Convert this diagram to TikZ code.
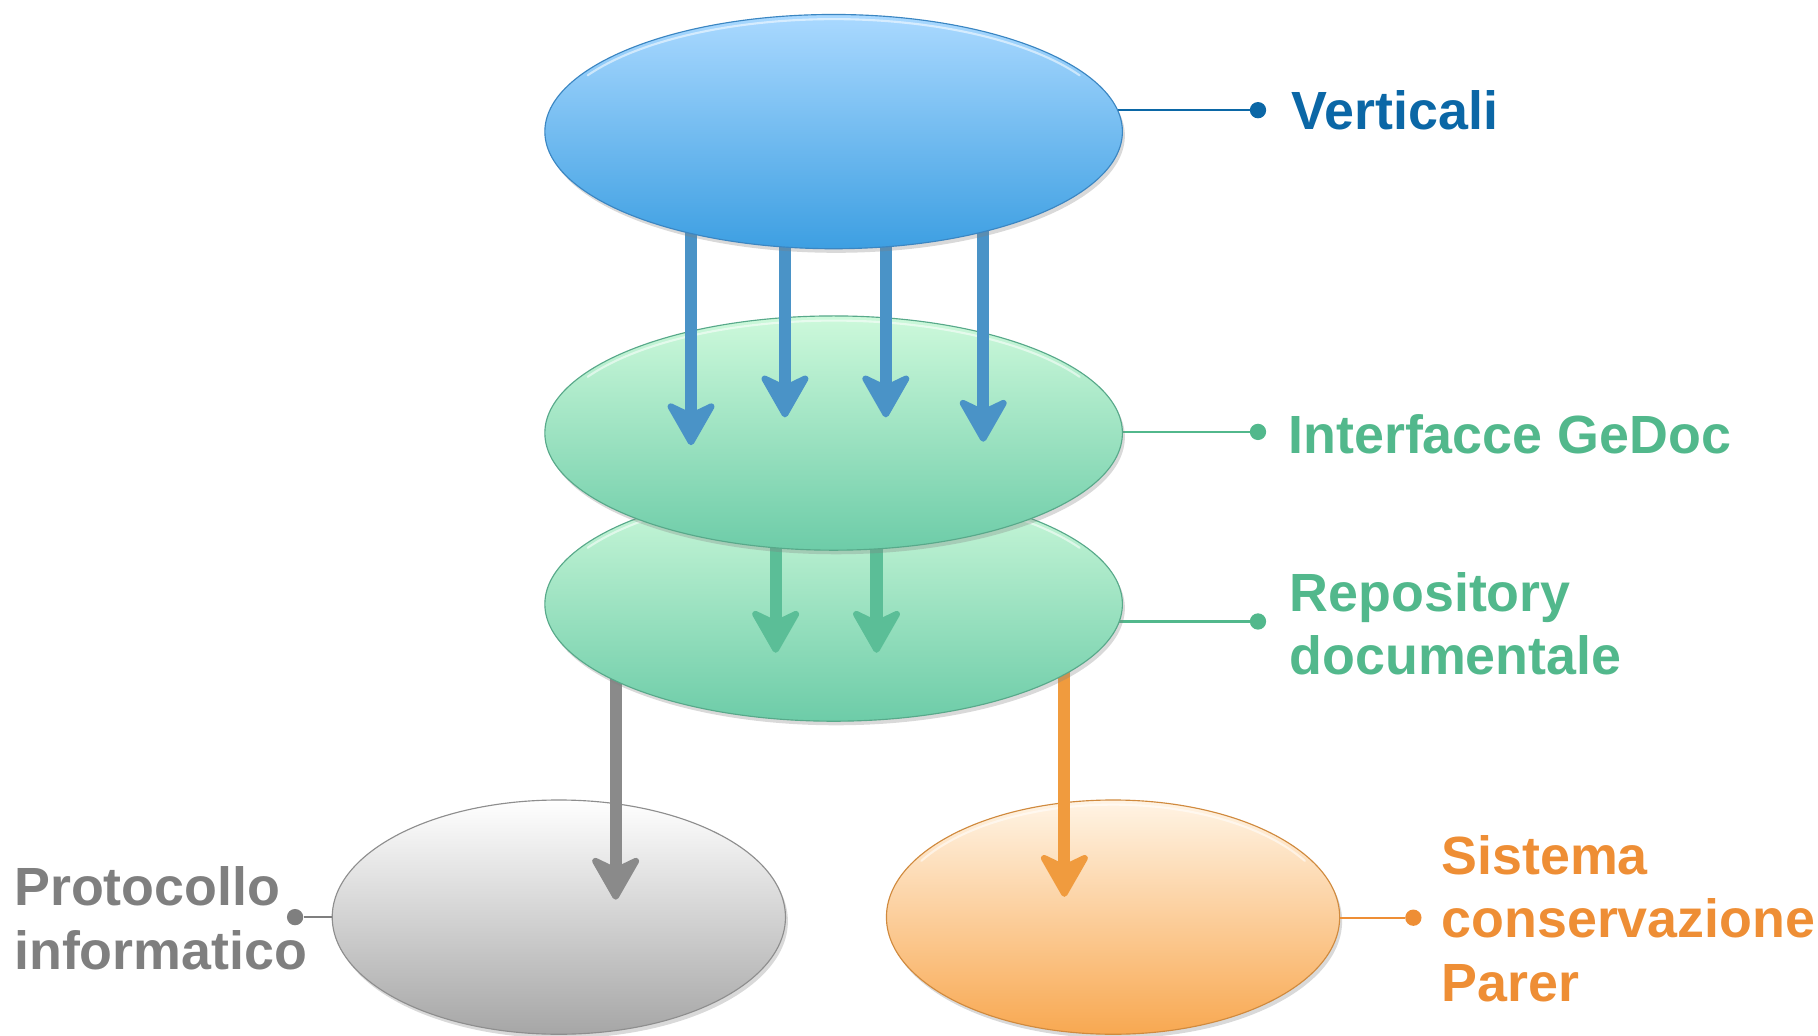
\documentclass[tikz,border=0pt]{standalone}
\usepackage{fontspec}
\setmainfont{Liberation Sans}
\usetikzlibrary{shapes.geometric,shadows,arrows.meta,calc}
\definecolor{txtblue}{HTML}{0B67A6}
\definecolor{arrblue}{HTML}{4A93C7}
\definecolor{blueT}{HTML}{AAD9FF}
\definecolor{blueB}{HTML}{3D9FE2}
\definecolor{blueE}{HTML}{3B86C2}
\definecolor{txtgreen}{HTML}{52B88C}
\definecolor{arrgreen}{HTML}{5BBE97}
\definecolor{greenT}{HTML}{CDF9DB}
\definecolor{greenB}{HTML}{6DCCA8}
\definecolor{greenE}{HTML}{58A98A}
\definecolor{txtgrey}{HTML}{7F7F7F}
\definecolor{arrgrey}{HTML}{8A8A8A}
\definecolor{greyB}{HTML}{A6A6A6}
\definecolor{greyE}{HTML}{8E8E8E}
\definecolor{txtorange}{HTML}{EE8E35}
\definecolor{arrorange}{HTML}{F09B3E}
\definecolor{orT}{HTML}{FFF4E5}
\definecolor{orB}{HTML}{F8A851}
\definecolor{orE}{HTML}{D08A3E}
\pgfdeclarelayer{l0}
\pgfdeclarelayer{l1}
\pgfdeclarelayer{l2}
\pgfdeclarelayer{l3}
\pgfdeclarelayer{l4}
\pgfdeclarelayer{l5}
\pgfdeclarelayer{l6}
\pgfsetlayers{l0,l1,l2,l3,l4,l5,l6,main}
\begin{document}
\begin{tikzpicture}[x=0.025cm,y=-0.025cm,
  blob/.style={ellipse, inner sep=0pt, minimum height=5.05cm, line width=0.7pt,
    drop shadow={opacity=0.3, shadow xshift=1.5pt, shadow yshift=-2.5pt}},
  bigblob/.style={blob, minimum width=12.45cm},
  smallblob/.style={blob, minimum width=9.77cm},
  rim/.style={white, opacity=0.55, line width=1.3pt, line cap=round},
  thickarrow/.style={line width=7.5pt,
    -{Stealth[length=30pt,width=34pt,inset=8pt,round,line width=4pt]}},
  lblline/.style={line width=1.3pt},
  lbltext/.style={anchor=base west, inner sep=0pt,
    font=\fontsize{33}{39}\selectfont\bfseries},
  dot/.style={circle, inner sep=0pt, minimum size=10pt}
]
\useasboundingbox (0,0) rectangle (1568,893.5);

% ellipses
\begin{pgfonlayer}{l6}
\node[bigblob, top color=blueT, bottom color=blueB, draw=blueE] (vert) at (719,113.5) {};
\draw[rim] (vert.center) ++(210:245 and 97) arc[start angle=210, end angle=330, x radius=245, y radius=97];
\end{pgfonlayer}
\begin{pgfonlayer}{l4}
\node[bigblob, top color=greenT, bottom color=greenB, draw=greenE] (intf) at (719,373.5) {};
\draw[rim] (intf.center) ++(210:245 and 97) arc[start angle=210, end angle=330, x radius=245, y radius=97];
\end{pgfonlayer}
\begin{pgfonlayer}{l2}
\node[bigblob, top color=greenT, bottom color=greenB, draw=greenE] (repo) at (719,521) {};
\draw[rim] (repo.center) ++(210:245 and 97) arc[start angle=210, end angle=330, x radius=245, y radius=97];
\end{pgfonlayer}
\begin{pgfonlayer}{l0}
\node[smallblob, top color=white, bottom color=greyB, draw=greyE] (proto) at (482,791) {};
\node[smallblob, top color=orT, bottom color=orB, draw=orE] (sist) at (960,791) {};
\draw[rim] (sist.center) ++(210:191 and 97) arc[start angle=210, end angle=330, x radius=191, y radius=97];
\end{pgfonlayer}

% label dots
\node[dot, fill=txtblue] (dvert) at (1085,95) {};
\node[dot, fill=txtgreen] (dintf) at (1085,372.5) {};
\node[dot, fill=txtgreen] (drepo) at (1085,536) {};
\node[dot, fill=txtgrey] (dproto) at (254.5,791) {};
\node[dot, fill=txtorange] (dsist) at (1219,791.5) {};

% label lines
\begin{pgfonlayer}{l0}
\draw[lblline, txtblue] (vert.center |- dvert) -- (dvert);
\draw[lblline, txtgreen] (intf.center |- dintf) -- (dintf);
\draw[lblline, txtgreen] (repo.center |- drepo) -- (drepo);
\end{pgfonlayer}
\draw[lblline, txtgrey] (dproto) -- (proto.west);
\draw[lblline, txtorange] (sist.east |- dsist) -- (dsist);

% labels
\node[lbltext, text=txtblue] (tvert) at (1114,112) {Verticali};
\node[lbltext, text=txtgreen] (tintf) at (1111,391) {Interfacce GeDoc};
\node[lbltext, text=txtgreen] (trepo) at (1112,527)
  {\begin{tabular}[t]{@{}l@{}}Repository\\documentale\end{tabular}};
\node[lbltext, text=txtgrey] (tproto) at (12,781)
  {\begin{tabular}[t]{@{}l@{}}Protocollo\\informatico\end{tabular}};
\node[lbltext, text=txtorange] (tsist) at (1243,754)
  {\begin{tabular}[t]{@{}l@{}}Sistema\\conservazione\\Parer\end{tabular}};

% blue arrows
\begin{pgfonlayer}{l5}
\draw[thickarrow, arrblue] ($(vert.center)+(-123,60)$) -- ($(intf.center)+(-123,10.5)$);
\draw[thickarrow, arrblue] ($(vert.center)+(-42,60)$) -- ($(intf.center)+(-42,-13.5)$);
\draw[thickarrow, arrblue] ($(vert.center)+(45,60)$) -- ($(intf.center)+(45,-13.5)$);
\draw[thickarrow, arrblue] ($(vert.center)+(129,60)$) -- ($(intf.center)+(129,7.5)$);
\end{pgfonlayer}
% green arrows
\begin{pgfonlayer}{l3}
\draw[thickarrow, arrgreen] ($(intf.center)+(-50,66)$) -- ($(repo.center)+(-50,42)$);
\draw[thickarrow, arrgreen] ($(intf.center)+(37,66)$) -- ($(repo.center)+(37,42)$);
\end{pgfonlayer}
% grey and orange arrows
\begin{pgfonlayer}{l1}
\draw[thickarrow, arrgrey] ($(repo.center)+(-188,40)$) -- ($(proto.center)+(49,-15)$);
\draw[thickarrow, arrorange] ($(repo.center)+(199,40)$) -- ($(sist.center)+(-42,-17.5)$);
\end{pgfonlayer}
\end{tikzpicture}
\end{document}
